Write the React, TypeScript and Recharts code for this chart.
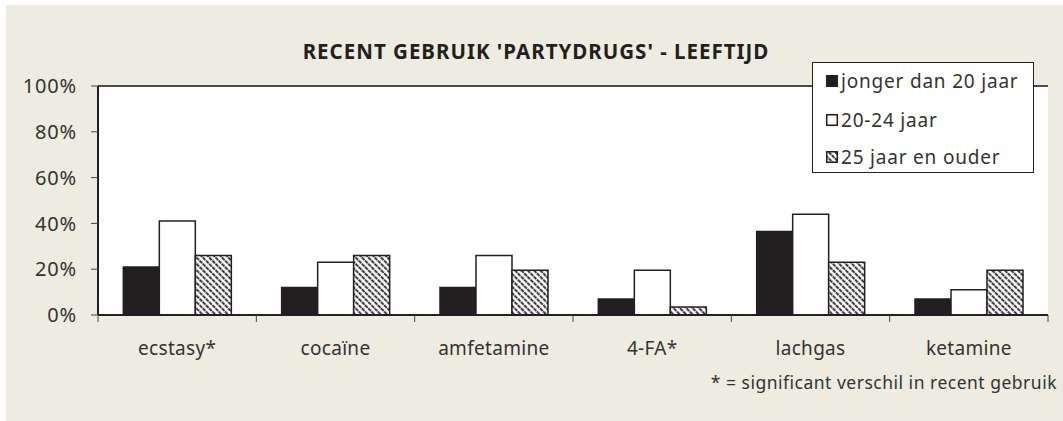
import { BarChart, Bar, XAxis, YAxis, CartesianGrid, ReferenceLine } from 'recharts';

// ── Data ─────────────────────────────────────────────────────────────

const categories = ['ecstasy*', 'cocaïne', 'amfetamine', '4-FA*', 'lachgas', 'ketamine'];
const under20 = [21, 12, 12, 7, 36.5, 7];
const age20to24 = [41, 23, 26, 19.5, 44, 11];
const over25 = [26, 26, 19.5, 3.5, 23, 19.5];
const yTicks = [0, 20, 40, 60, 80, 100];

const seriesNames = ['jonger dan 20 jaar', '20-24 jaar', '25 jaar en ouder'];

const rows = categories.map((name, i) => ({
  name,
  a: under20[i],
  b: age20to24[i],
  c: over25[i],
}));

// ── Layout ───────────────────────────────────────────────────────────

const W = 1057;
const H = 416;
const Y_AXIS_W = 92;
const RIGHT = 15;
const PLOT_W = W - Y_AXIS_W - RIGHT;
const BAND = PLOT_W / categories.length;
const FONT = '"Noto Sans", "Open Sans", sans-serif';
const INK = '#231f20';
const BG = '#eeebe1';

function HatchDef({ id }: { id: string }) {
  return (
    <pattern id={id} patternUnits="userSpaceOnUse" width={4.5} height={4.5} patternTransform="rotate(-45)">
      <rect width={4.5} height={4.5} fill="#fff" />
      <line x1={1.2} y1={0} x2={1.2} y2={4.5} stroke={INK} strokeWidth={1.8} strokeDasharray="2 0.6" />
    </pattern>
  );
}

function CategoryTick(props: any) {
  const { x, y, payload, index } = props;
  const left = x - BAND / 2;
  const right = x + BAND / 2;
  return (
    <g>
      <line x1={left} y1={y} x2={left} y2={y + 7} stroke="#444" strokeWidth={1} />
      {index === categories.length - 1 && (
        <line x1={right} y1={y} x2={right} y2={y + 7} stroke="#444" strokeWidth={1} />
      )}
      <text x={x} y={y + 40} textAnchor="middle" fontSize={19} letterSpacing={0.3} fill="#333" fontFamily={FONT}>
        {payload.value}
      </text>
    </g>
  );
}

function Swatch({ kind }: { kind: number }) {
  return (
    <svg width={12} height={12} style={{ display: 'block' }}>
      <defs>
        <HatchDef id="legendHatch" />
      </defs>
      <rect
        x={0.75}
        y={0.75}
        width={10.5}
        height={10.5}
        fill={kind === 0 ? INK : kind === 1 ? '#fff' : 'url(#legendHatch)'}
        stroke={INK}
        strokeWidth={1.5}
      />
    </svg>
  );
}

export default function App() {
  return (
    <div style={{ position: 'absolute', left: 0, top: 0, width: 1063, height: 421, background: '#fff' }}>
      <div style={{ position: 'absolute', left: 6, top: 5, width: W, height: H, background: BG }}>
        <div
          style={{
            position: 'absolute',
            left: 0,
            width: 1060,
            top: 32,
            textAlign: 'center',
            fontFamily: FONT,
            fontWeight: 700,
            fontSize: 20.5,
            letterSpacing: 1,
            color: INK,
            whiteSpace: 'pre',
          }}
        >
          RECENT GEBRUIK 'PARTYDRUGS' - LEEFTIJD
        </div>

        <BarChart
          width={W}
          height={H}
          data={rows}
          margin={{ top: 81, right: RIGHT, bottom: 76, left: 0 }}
          barGap={0}
          barCategoryGap="16%"
        >
          <defs>
            <HatchDef id="barHatch" />
          </defs>
          <CartesianGrid
            vertical={false}
            stroke="#555"
            strokeDasharray="1 1"
            fill="#fff"
          />
          <XAxis
            dataKey="name"
            height={30}
            tickSize={0}
            tickMargin={0}
            tickLine={false}
            axisLine={{ stroke: INK, strokeWidth: 2 }}
            tick={<CategoryTick />}
            interval={0}
          />
          <YAxis
            yAxisId="left"
            width={Y_AXIS_W}
            domain={[0, 100]}
            ticks={yTicks}
            tickFormatter={(v: number) => `${v}%`}
            tickSize={7}
            tickMargin={14}
            tickLine={{ stroke: '#444' }}
            axisLine={{ stroke: INK, strokeWidth: 2 }}
            tick={{ fontSize: 20, fill: '#333', fontFamily: FONT, letterSpacing: 0.8 }}
          />
          <YAxis
            yAxisId="right"
            orientation="right"
            width={0}
            domain={[0, 100]}
            tick={false}
            tickLine={false}
            axisLine={{ stroke: INK, strokeWidth: 1.5 }}
          />
          <ReferenceLine yAxisId="left" y={100} stroke={INK} strokeWidth={1.5} />
          <Bar yAxisId="left" dataKey="a" fill={INK} stroke={INK} strokeWidth={1.5} isAnimationActive={false} />
          <Bar yAxisId="left" dataKey="b" fill="#fff" stroke={INK} strokeWidth={1.5} isAnimationActive={false} />
          <Bar yAxisId="left" dataKey="c" fill="url(#barHatch)" stroke={INK} strokeWidth={1.5} isAnimationActive={false} />
        </BarChart>

        <div
          style={{
            position: 'absolute',
            left: 806,
            top: 57,
            width: 222,
            height: 111,
            boxSizing: 'border-box',
            background: '#fff',
            border: `1.5px solid ${INK}`,
            fontFamily: FONT,
            fontSize: 19,
            letterSpacing: 0.8,
            color: '#333',
          }}
        >
          {seriesNames.map((s, i) => (
            <div
              key={s}
              style={{
                position: 'absolute',
                left: 13,
                top: [3, 42, 79][i],
                height: 30,
                display: 'flex',
                alignItems: 'center',
                whiteSpace: 'nowrap',
              }}
            >
              <Swatch kind={i} />
              <span style={{ marginLeft: 3 }}>{s}</span>
            </div>
          ))}
        </div>

        <div
          style={{
            position: 'absolute',
            right: 6,
            top: 365,
            fontFamily: FONT,
            fontSize: 17.5,
            letterSpacing: 0.5,
            color: '#333',
            whiteSpace: 'nowrap',
          }}
        >
          * = significant verschil in recent gebruik
        </div>
      </div>
    </div>
  );
}
